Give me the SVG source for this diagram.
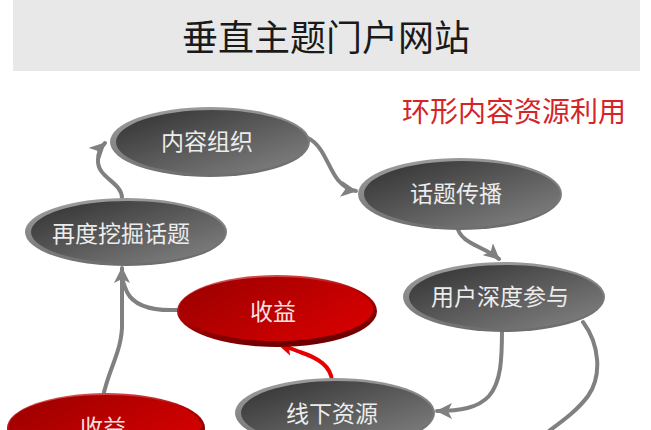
<svg xmlns="http://www.w3.org/2000/svg" width="651" height="430" viewBox="0 0 651 430">
<style>
.lbl{font-family:"Noto Sans CJK SC","Noto Sans",sans-serif;font-size:23px;fill:#ececec;text-anchor:middle;dominant-baseline:central}
.rl{fill:#f6e2e2}
.con{fill:none;stroke:#808080;stroke-width:4;stroke-linecap:round}
.red{stroke:#e80000}
</style>
<defs>
<linearGradient id="gRim" x1="0" y1="0" x2="0.3" y2="1"><stop offset="0" stop-color="#a0a0a0"/><stop offset="1" stop-color="#6e6e6e"/></linearGradient>
<linearGradient id="gBody" x1="0" y1="0" x2="1" y2="1"><stop offset="0" stop-color="#303030"/><stop offset="1" stop-color="#858585"/></linearGradient>
<linearGradient id="rRim" x1="0" y1="0" x2="0.4" y2="1"><stop offset="0" stop-color="#e07070"/><stop offset="0.5" stop-color="#b00000"/><stop offset="1" stop-color="#700000"/></linearGradient>
<linearGradient id="rBody" x1="0" y1="0" x2="1" y2="0.6"><stop offset="0" stop-color="#980000"/><stop offset="1" stop-color="#d40000"/></linearGradient>
<marker id="ag" markerUnits="userSpaceOnUse" markerWidth="18" markerHeight="16" refX="15" refY="8" orient="auto" viewBox="0 0 18 16"><path d="M0,0 L16,8 L0,16 L4,8 z" fill="#808080"/></marker>
<marker id="ar" markerUnits="userSpaceOnUse" markerWidth="18" markerHeight="16" refX="15" refY="8" orient="auto" viewBox="0 0 18 16"><path d="M0,0 L16,8 L0,16 L4,8 z" fill="#e80000"/></marker>
</defs>
<rect x="0" y="0" width="651" height="430" fill="#ffffff"/>
<g id="header">
<rect x="13" y="0" width="627" height="71" fill="#e8e8e8"/>
<text x="326" y="35" font-family="'Noto Sans CJK SC','Noto Sans',sans-serif" font-size="36" fill="#1a1a1a" text-anchor="middle" dominant-baseline="central">垂直主题门户网站</text>
<text x="626" y="110" font-family="'Noto Sans CJK SC','Noto Sans',sans-serif" font-size="28" fill="#d42428" text-anchor="end" dominant-baseline="central">环形内容资源利用</text>
</g>
<g id="connectors">
<path class="con" d="M122,198 C122,182 97,178 98,160 C98,152 101,147 105,143" marker-end="url(#ag)"/>
<path class="con" d="M308,138 C324,146 328,168 338,180 C344,187 349,190 356,191" marker-end="url(#ag)"/>
<path class="con" d="M457,226 C460,244 484,246 499,259" marker-end="url(#ag)"/>
<path class="con" d="M502,329 C502,360 501,382 489,396 C478,408 460,411 437,411" marker-end="url(#ag)"/>
<path class="con" d="M583,322 C600,345 602,376 588,396 C577,411 561,422 545,434"/>
<path class="con" d="M177,310 C152,311 134,306 127,292 C124,285 122,280 122,276"/>
<path class="con" d="M103,397 C108,370 123,350 122,322 L122,268" marker-end="url(#ag)"/>
<path class="con red" d="M332,381 C331,366 318,358 300,352 C292,349 285,346 278,344" marker-end="url(#ar)"/>
</g>
<g id="n1">
<ellipse cx="210" cy="142" rx="100" ry="35" fill="url(#gRim)"/>
<ellipse cx="212" cy="142" rx="96" ry="32" fill="url(#gBody)"/>
<text class="lbl" x="207" y="140">内容组织</text>
</g>
<g id="n2">
<ellipse cx="126" cy="232" rx="101" ry="34" fill="url(#gRim)"/>
<ellipse cx="128" cy="232" rx="97" ry="31" fill="url(#gBody)"/>
<text class="lbl" x="121" y="232">再度挖掘话题</text>
</g>
<g id="n3">
<ellipse cx="460" cy="194" rx="102" ry="36" fill="url(#gRim)"/>
<ellipse cx="462" cy="194" rx="98" ry="33" fill="url(#gBody)"/>
<text class="lbl" x="456" y="192">话题传播</text>
</g>
<g id="n4">
<ellipse cx="504" cy="297" rx="101" ry="35" fill="url(#gRim)"/>
<ellipse cx="506" cy="297" rx="97" ry="32" fill="url(#gBody)"/>
<text class="lbl" x="500" y="295">用户深度参与</text>
</g>
<g id="n5">
<ellipse cx="277" cy="311" rx="100" ry="36" fill="url(#rRim)"/>
<ellipse cx="276" cy="309" rx="97" ry="32" fill="url(#rBody)"/>
<text class="lbl rl" x="273" y="310">收益</text>
</g>
<g id="n6">
<ellipse cx="335" cy="413" rx="100" ry="35" fill="url(#gRim)"/>
<ellipse cx="337" cy="413" rx="96" ry="32" fill="url(#gBody)"/>
<text class="lbl" x="332" y="412">线下资源</text>
</g>
<g id="n7">
<ellipse cx="106" cy="428" rx="99" ry="35" fill="url(#rRim)"/>
<ellipse cx="105" cy="426" rx="96" ry="31" fill="url(#rBody)"/>
<text class="lbl rl" x="103" y="426">收益</text>
</g>
</svg>
